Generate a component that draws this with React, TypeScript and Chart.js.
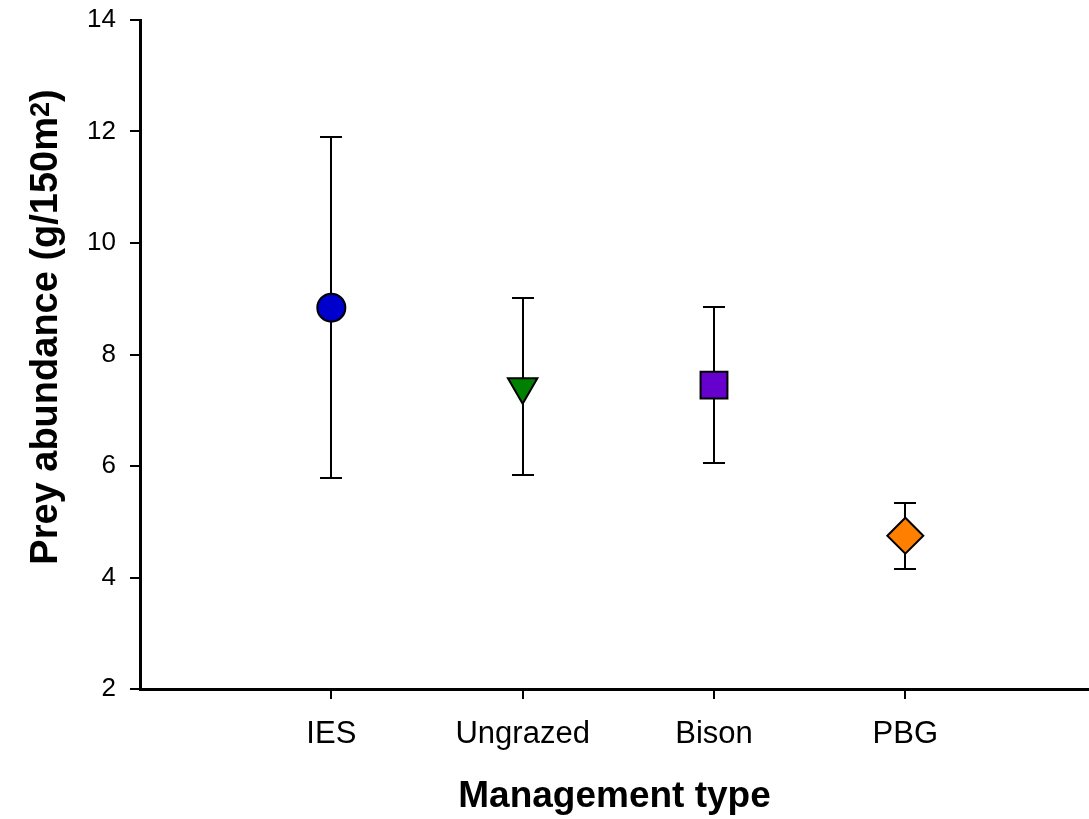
import React, { useEffect, useRef } from "react";
import { Chart, registerables } from "chart.js";

Chart.register(...registerables);

const categories = ["IES", "Ungrazed", "Bison", "PBG"];
const means = [8.84, 7.42, 7.45, 4.75];
const upperErr = [11.91, 9.01, 8.85, 5.33];
const lowerErr = [5.78, 5.84, 6.05, 4.15];
const markerStyles = ["circle", "triangle", "rect", "rectRot"];
const markerRotation = [0, 180, 0, 0];
const markerRadius = [14, 17, 19, 18];
const markerColors = ["#0000CC", "#008000", "#6600CC", "#FF8000"];
const yTicks = [2, 4, 6, 8, 10, 12, 14];
const xLabel = "Management type";
const yLabelMain = "Prey abundance (g/150m";
const yLabelSup = "2";
const yLabelTail = ")";

const FONT = "'Liberation Sans', Arial, sans-serif";

const errorBarPlugin = {
  id: "errorBars",
  beforeDatasetsDraw(chart: any) {
    const { ctx, scales } = chart;
    const xs = scales.x;
    const ys = scales.y;
    ctx.save();
    ctx.strokeStyle = "#000";
    ctx.lineWidth = 2;
    for (let i = 0; i < categories.length; i++) {
      const px = Math.round(xs.getPixelForValue(i + 1));
      const pTop = Math.round(ys.getPixelForValue(upperErr[i]));
      const pBot = Math.round(ys.getPixelForValue(lowerErr[i]));
      const cap = 11;
      ctx.beginPath();
      ctx.moveTo(px, pTop);
      ctx.lineTo(px, pBot);
      ctx.moveTo(px - cap, pTop);
      ctx.lineTo(px + cap, pTop);
      ctx.moveTo(px - cap, pBot);
      ctx.lineTo(px + cap, pBot);
      ctx.stroke();
    }
    ctx.restore();
  },
};

const titlesPlugin = {
  id: "titles",
  afterDraw(chart: any) {
    const { ctx, chartArea } = chart;
    ctx.save();
    ctx.fillStyle = "#000";
    ctx.font = `bold 37px ${FONT}`;
    ctx.textAlign = "center";
    ctx.textBaseline = "alphabetic";
    ctx.fillText(xLabel, (chartArea.left + chartArea.right) / 2, chartArea.bottom + 118);
    const mainFont = `bold 38px ${FONT}`;
    const supFont = `bold 27px ${FONT}`;
    ctx.font = mainFont;
    const wMain = ctx.measureText(yLabelMain).width;
    const wTail = ctx.measureText(yLabelTail).width;
    ctx.font = supFont;
    const wSup = ctx.measureText(yLabelSup).width;
    const total = wMain + wSup + wTail;
    ctx.translate(57, 327);
    ctx.rotate(-Math.PI / 2);
    ctx.textAlign = "left";
    let x = -total / 2;
    ctx.font = mainFont;
    ctx.fillText(yLabelMain, x, 0);
    x += wMain;
    ctx.font = supFont;
    ctx.fillText(yLabelSup, x, -8);
    x += wSup;
    ctx.font = mainFont;
    ctx.fillText(yLabelTail, x, 0);
    ctx.restore();
  },
};

export default function App() {
  const ref = useRef<HTMLCanvasElement | null>(null);
  useEffect(() => {
    if (!ref.current) return;
    const chart = new Chart(ref.current, {
      type: "scatter",
      data: {
        datasets: [
          {
            data: means.map((m, i) => ({ x: i + 1, y: m })),
            pointStyle: markerStyles as any,
            rotation: markerRotation,
            pointRadius: markerRadius,
            pointHoverRadius: markerRadius,
            backgroundColor: markerColors,
            borderColor: "#000",
            borderWidth: 2,
            showLine: false,
          },
        ],
      },
      options: {
        responsive: true,
        maintainAspectRatio: false,
        animation: false,
        layout: { autoPadding: false, padding: { top: 20, right: 0, left: 0, bottom: 0 } },
        plugins: {
          legend: { display: false },
          tooltip: { enabled: false },
        },
        scales: {
          x: {
            type: "linear",
            min: 0,
            max: 4.96,
            afterBuildTicks: (scale: any) => {
              scale.ticks = categories.map((_, i) => ({ value: i + 1 }));
            },
            afterFit: (scale: any) => {
              scale.height = 130;
              scale.paddingLeft = 0;
              scale.paddingRight = 0;
            },
            ticks: {
              autoSkip: false,
              maxRotation: 0,
              padding: 17,
              color: "#000",
              font: { family: FONT, size: 31 },
              callback: (v: any) => categories[Math.round(Number(v)) - 1] ?? "",
            },
            grid: {
              drawOnChartArea: false,
              drawTicks: true,
              tickLength: 10,
              color: "#000",
              lineWidth: 2,
            },
            border: { display: true, color: "#000", width: 3 },
          },
          y: {
            min: 2,
            max: 14,
            afterBuildTicks: (scale: any) => {
              scale.ticks = yTicks.map((v) => ({ value: v }));
            },
            afterFit: (scale: any) => {
              scale.width = 140;
              scale.paddingTop = 0;
              scale.paddingBottom = 0;
            },
            ticks: {
              padding: 14,
              color: "#000",
              font: { family: FONT, size: 26 },
            },
            grid: {
              drawOnChartArea: false,
              drawTicks: true,
              tickLength: 10,
              color: "#000",
              lineWidth: 2,
            },
            border: { display: true, color: "#000", width: 3 },
          },
        },
      },
      plugins: [errorBarPlugin, titlesPlugin],
    });
    return () => chart.destroy();
  }, []);
  return (
    <div style={{ position: "fixed", left: 0, top: 0, width: 1089, height: 819, background: "#fff" }}>
      <canvas ref={ref} />
    </div>
  );
}
